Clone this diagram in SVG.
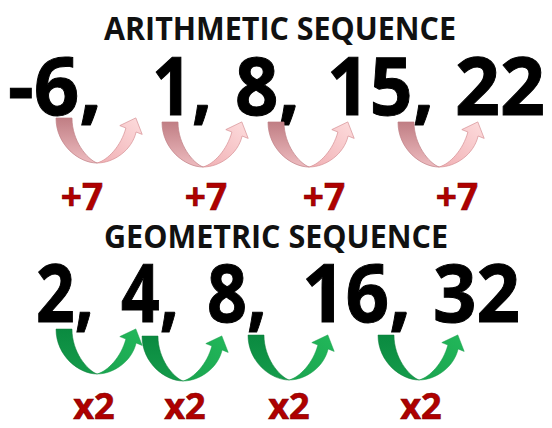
<svg xmlns="http://www.w3.org/2000/svg" width="552" height="428" viewBox="0 0 552 428">
<style>
text{font-family:"Open Sans","Liberation Sans",sans-serif;font-weight:700}
.title{font-size:32px;fill:#111}
.num{font-size:80px;fill:#000;stroke:#000;stroke-width:1}
.lbl{font-size:37px;fill:#b00000;stroke:#7a0000;stroke-width:0.6}
.x2{font-size:36px}
.pinkL{fill:url(#gPinkL);stroke:#c07f85;stroke-width:0.7}
.pinkR{fill:url(#gPinkR);stroke:#d68f94;stroke-width:0.7}
.greenL{fill:url(#gGreenL);stroke:#0c7a38;stroke-width:0.5}
.greenR{fill:url(#gGreenR);stroke:#139a47;stroke-width:0.5}
</style>
<defs>
<linearGradient id="gPinkL" x1="0" y1="0" x2="0" y2="1"><stop offset="0" stop-color="#c07e84"/><stop offset="1" stop-color="#eebcc0"/></linearGradient>
<linearGradient id="gPinkR" x1="0" y1="1" x2="1" y2="0"><stop offset="0" stop-color="#f0b0b4"/><stop offset="1" stop-color="#fddcdd"/></linearGradient>
<linearGradient id="gGreenL" x1="0" y1="0" x2="0" y2="1"><stop offset="0" stop-color="#0a8a40"/><stop offset="1" stop-color="#159c4b"/></linearGradient>
<linearGradient id="gGreenR" x1="0" y1="1" x2="1" y2="0"><stop offset="0" stop-color="#1aa34f"/><stop offset="1" stop-color="#22b85a"/></linearGradient>
<g id="arrowPink">
<path class="pinkL" d="M-41,-45 C-41,-18 -18,0 0,0 C-10,-4 -25,-22 -25,-45 Z"/>
<path class="pinkR" d="M0,0 C17,0 35,-13 39.1,-31 L45.2,-28.6 L38.8,-45.1 L22.8,-37.4 L28.9,-35 C24,-17 11,-3 0,0 Z"/>
</g>
<g id="arrowGreen">
<path class="greenL" d="M-41,-45 C-41,-18 -18,0 0,0 C-10,-4 -25,-22 -25,-45 Z"/>
<path class="greenR" d="M0,0 C17,0 35,-13 39.1,-31 L45.2,-28.6 L38.8,-45.1 L22.8,-37.4 L28.9,-35 C24,-17 11,-3 0,0 Z"/>
</g>
</defs>
<rect width="552" height="428" fill="#fff"/>

<g id="title-arithmetic"><text class="title" x="104" y="40" textLength="352" lengthAdjust="spacingAndGlyphs">ARITHMETIC SEQUENCE</text></g>
<g id="a1"><text class="num" x="8" y="115" textLength="94" lengthAdjust="spacingAndGlyphs">-6,</text></g>
<g id="a2"><text class="num" x="152" y="115" textLength="60" lengthAdjust="spacingAndGlyphs">1,</text></g>
<g id="a3"><text class="num" x="235" y="115" textLength="65" lengthAdjust="spacingAndGlyphs">8,</text></g>
<g id="a4"><text class="num" x="327" y="115" textLength="107" lengthAdjust="spacingAndGlyphs">15,</text></g>
<g id="a5"><text class="num" x="455" y="115" textLength="90" lengthAdjust="spacingAndGlyphs">22</text></g>

<g id="title-geometric"><text class="title" x="104" y="248" textLength="344" lengthAdjust="spacingAndGlyphs">GEOMETRIC SEQUENCE</text></g>
<g id="g1"><text class="num" x="36" y="322" textLength="58" lengthAdjust="spacingAndGlyphs">2,</text></g>
<g id="g2"><text class="num" x="121" y="322" textLength="58" lengthAdjust="spacingAndGlyphs">4,</text></g>
<g id="g3"><text class="num" x="207" y="322" textLength="60" lengthAdjust="spacingAndGlyphs">8,</text></g>
<g id="g4"><text class="num" x="302" y="322" textLength="109" lengthAdjust="spacingAndGlyphs">16,</text></g>
<g id="g5"><text class="num" x="433" y="322" textLength="87" lengthAdjust="spacingAndGlyphs">32</text></g>

<g id="connectors">
<use href="#arrowPink" transform="translate(97,163)"/>
<use href="#arrowPink" transform="translate(203,167)"/>
<use href="#arrowPink" transform="translate(309,167)"/>
<use href="#arrowPink" transform="translate(439,167)"/>
<use href="#arrowGreen" transform="translate(97,374)"/>
<use href="#arrowGreen" transform="translate(183,381)"/>
<use href="#arrowGreen" transform="translate(289,380)"/>
<use href="#arrowGreen" transform="translate(419,380)"/>
</g>

<g id="labels">
<g id="l-a1"><text class="lbl" x="82" y="210" text-anchor="middle">+7</text></g>
<g id="l-a2"><text class="lbl" x="206" y="210" text-anchor="middle">+7</text></g>
<g id="l-a3"><text class="lbl" x="324" y="210" text-anchor="middle">+7</text></g>
<g id="l-a4"><text class="lbl" x="457" y="210" text-anchor="middle">+7</text></g>
<g id="l-g1"><text class="lbl x2" x="94" y="419" text-anchor="middle">x2</text></g>
<g id="l-g2"><text class="lbl x2" x="185" y="419" text-anchor="middle">x2</text></g>
<g id="l-g3"><text class="lbl x2" x="289" y="419" text-anchor="middle">x2</text></g>
<g id="l-g4"><text class="lbl x2" x="421" y="419" text-anchor="middle">x2</text></g>
</g>
</svg>
